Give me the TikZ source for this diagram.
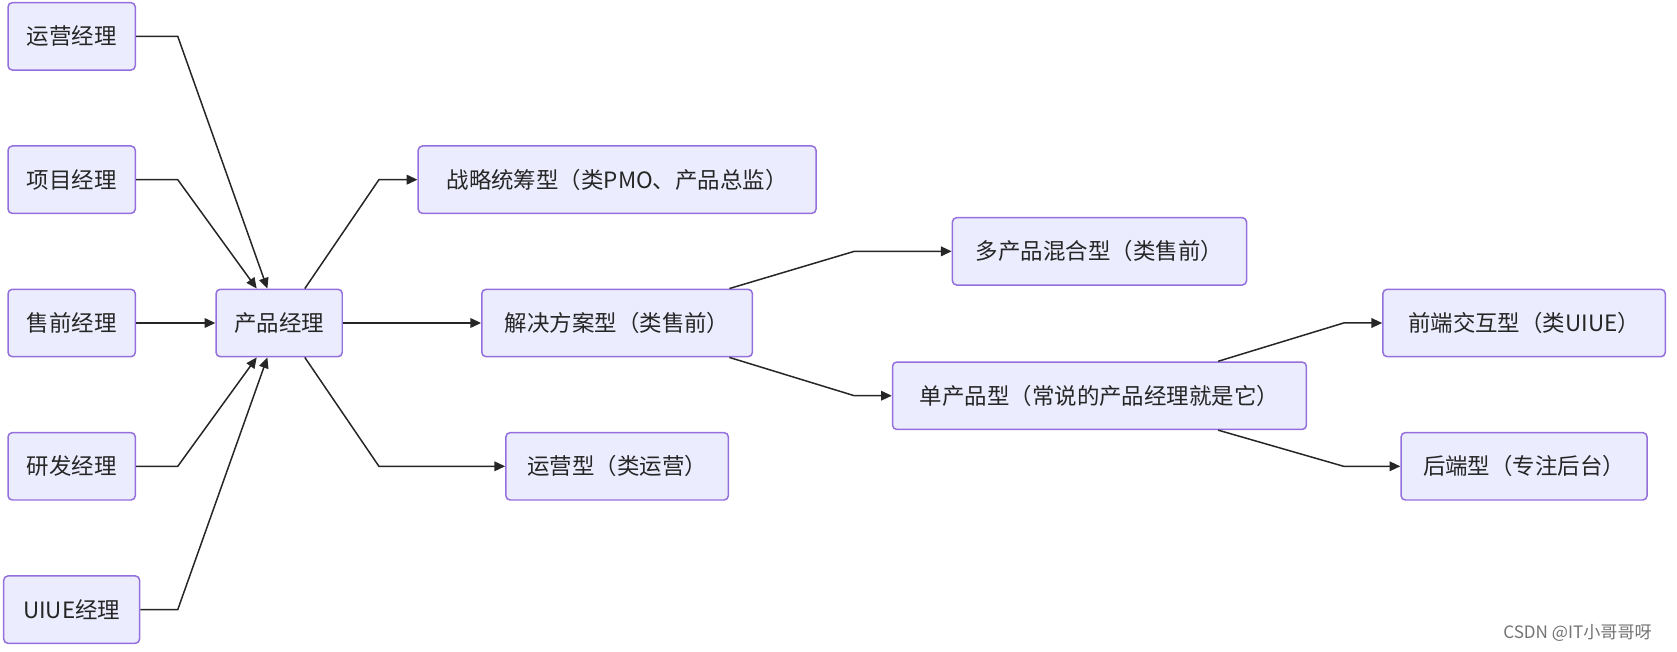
\documentclass[tikz,border=0pt]{standalone}
\usepackage{fontspec}
\setmainfont{Noto Sans CJK SC}
\usetikzlibrary{calc,arrows.meta}
\definecolor{boxfill}{HTML}{ECECFF}
\definecolor{boxline}{HTML}{9370DB}
\tikzset{
  box/.style={draw=boxline,fill=boxfill,line width=0.7pt,rounded corners=2pt,
    minimum height=31.5pt,inner sep=0pt,font=\fontsize{10.5}{12}\selectfont,text=black!85},
  arr/.style={-{Triangle[length=5pt,width=4.5pt]},line width=0.7pt,black!85}
}
\begin{document}
\begin{tikzpicture}[x=0.5pt,y=-0.5pt]
\useasboundingbox (0,0) rectangle (1568,609);
%left column
\node[box,minimum width=59.5pt] (yy) at (67,34) {运营经理};
\node[box,minimum width=59.5pt] (xm) at (67,168) {项目经理};
\node[box,minimum width=59.5pt] (sq) at (67,302) {售前经理};
\node[box,minimum width=59.5pt] (yf) at (67,436) {研发经理};
\node[box,minimum width=63.5pt] (ui) at (67,570) {UIUE经理};
%center
\node[box,minimum width=59pt] (cp) at (261,302) {产品经理};
\node[box,minimum width=186pt] (zl) at (577,168) {战略统筹型（类PMO、产品总监）};
\node[box,minimum width=126.5pt] (jj) at (577,302) {解决方案型（类售前）};
\node[box,minimum width=104pt] (yx) at (577,436) {运营型（类运营）};
%right
\node[box,minimum width=137.5pt] (dc) at (1028,235) {多产品混合型（类售前）};
\node[box,minimum width=193.5pt] (dp) at (1028,370) {单产品型（常说的产品经理就是它）};
\node[box,minimum width=132pt] (qd) at (1425,302) {前端交互型（类UIUE）};
\node[box,minimum width=115pt] (hd) at (1425,436) {后端型（专注后台）};
\node[text=black!55,font=\fontsize{8}{10}\selectfont] (wm) at (1475,592) {CSDN @IT小哥哥呀};
%edges
\draw[arr] (yy.east) -- ++(39,0) -- ($(cp.north)+(-11,0)$);
\draw[arr] (xm.east) -- ++(39,0) -- ($(cp.north)+(-21,0)$);
\draw[arr] (sq) -- (cp);
\draw[arr] (yf.east) -- ++(39,0) -- ($(cp.south)+(-21,0)$);
\draw[arr] (ui.east) -- ++(35,0) -- ($(cp.south)+(-11,0)$);
\draw[arr] ($(cp.north)+(24,0)$) -- ($(zl.west)+(-36,0)$) -- (zl.west);
\draw[arr] (cp) -- (jj);
\draw[arr] ($(cp.south)+(24,0)$) -- ($(yx.west)+(-118,0)$) -- (yx.west);
\draw[arr] ($(jj.north)+(105,0)$) -- ($(dc.west)+(-91,0)$) -- (dc.west);
\draw[arr] ($(jj.south)+(105,0)$) -- ($(dp.west)+(-35,0)$) -- (dp.west);
\draw[arr] ($(dp.north)+(111,0)$) -- ($(qd.west)+(-36,0)$) -- (qd.west);
\draw[arr] ($(dp.south)+(111,0)$) -- ($(hd.west)+(-53,0)$) -- (hd.west);
\end{tikzpicture}
\end{document}
